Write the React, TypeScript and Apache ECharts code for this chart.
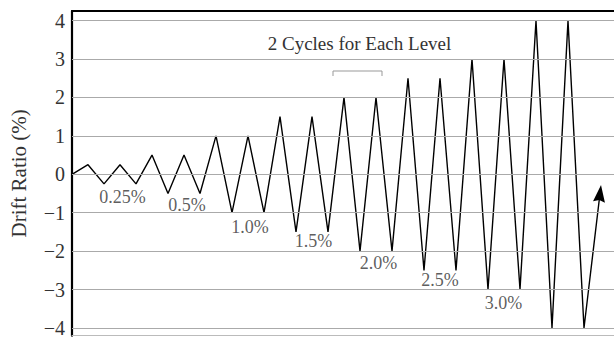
import React, { useEffect, useRef } from "react";
import * as echarts from "echarts";

// Drift ratio history (each point is one half-cycle step in time)
const stepIndex: number[] = [
  0, 1, 2, 3, 4, 5, 6, 7, 8, 9, 10, 11, 12, 13, 14, 15, 16,
  17, 18, 19, 20, 21, 22, 23, 24, 25, 26, 27, 28, 29, 30, 31, 32, 33,
];
const driftValues: number[] = [
  0, 0.25, -0.25, 0.25, -0.25, 0.5, -0.5, 0.5, -0.5, 1, -1, 1, -1, 1.5, -1.5,
  1.5, -1.5, 2, -2, 2, -2, 2.5, -2.5, 2.5, -2.5, 3, -3, 3, -3, 4, -4, 4, -4,
  -0.5,
];
const yTickValues: number[] = [-4, -3, -2, -1, 0, 1, 2, 3, 4];

// Level annotations
const levelLabels: string[] = ["0.25%", "0.5%", "1.0%", "1.5%", "2.0%", "2.5%", "3.0%"];
const levelLabelX: number[] = [3.15, 7.19, 11.12, 15.1, 19.16, 23.0, 26.97];
const levelLabelY: number[] = [-0.59, -0.81, -1.37, -1.73, -2.32, -2.74, -3.36];

const cyclesText = "2 Cycles for Each Level";
const yAxisTitle = "Drift Ratio (%)";

const SERIF = "'Liberation Serif', 'DejaVu Serif', serif";
const ARROW_HEAD = "path://M0,0 L6,17 L0,15 L-6,17 Z";

export default function App() {
  const ref = useRef<HTMLDivElement>(null);

  useEffect(() => {
    if (!ref.current) return;
    const chart = echarts.init(ref.current, undefined, { renderer: "svg" });

    const n = driftValues.length;
    const lineData = driftValues.map((v, i) => {
      if (i === n - 1) {
        return {
          value: [stepIndex[i], v],
          symbol: ARROW_HEAD,
          symbolSize: [12, 17],
          symbolRotate: -6.8,
          itemStyle: { color: "#000" },
        };
      }
      return { value: [stepIndex[i], v], symbol: "none" };
    });

    const labelData = levelLabels.map((t, i) => ({
      value: [levelLabelX[i], levelLabelY[i]],
      name: t,
    }));

    chart.setOption({
      animation: false,
      grid: { left: 72, right: 0, top: 11, bottom: 0.6, containLabel: false },
      xAxis: [
        {
          type: "value",
          position: "top",
          min: 0,
          max: 33.875,
          axisLine: { show: true, onZero: false, lineStyle: { color: "#000", width: 2.2 } },
          axisTick: { show: false },
          axisLabel: { show: false },
          splitLine: { show: false },
        },
        {
          type: "value",
          position: "bottom",
          min: 0,
          max: 33.875,
          axisLine: { show: true, onZero: false, lineStyle: { color: "#bbb", width: 1 } },
          axisTick: { show: false },
          axisLabel: { show: false },
          splitLine: { show: false },
        },
      ],
      yAxis: {
        type: "value",
        min: -4.2,
        max: 4.25,
        axisLine: { show: true, onZero: false, lineStyle: { color: "#000", width: 2.2 } },
        axisTick: { show: false },
        splitLine: { show: false },
        axisLabel: {
          customValues: yTickValues,
          margin: 7,
          color: "#333",
          fontFamily: SERIF,
          fontSize: 20,
          formatter: (v: number) => (v < 0 ? "\u2212" + Math.abs(v) : String(v)),
        },
        name: yAxisTitle,
        nameLocation: "middle",
        nameGap: 43,
        nameTextStyle: { color: "#333", fontFamily: SERIF, fontSize: 21 },
      },
      series: [
        {
          type: "scatter",
          data: [],
          silent: true,
          z: 1,
          markLine: {
            silent: true,
            symbol: ["none", "none"],
            label: { show: false },
            lineStyle: { color: "#aaa", width: 1.2, type: "solid" },
            data: yTickValues.map((v) => ({ yAxis: v })),
          },
        },
        {
          type: "line",
          data: lineData,
          showSymbol: true,
          showAllSymbol: true,
          symbol: "none",
          z: 3,
          lineStyle: { color: "#000", width: 1.4 },
          itemStyle: { color: "#000" },
        },
        {
          type: "scatter",
          data: labelData,
          symbolSize: 0,
          silent: true,
          z: 4,
          label: {
            show: true,
            position: "inside",
            formatter: (p: any) => p.name,
            color: "#333",
            fontFamily: SERIF,
            fontSize: 18,
          },
        },
      ],
      graphic: [
        {
          type: "text",
          x: 359.5,
          y: 43,
          style: {
            text: cyclesText,
            fill: "#333",
            font: `19px ${SERIF}`,
            textAlign: "center",
            textVerticalAlign: "middle",
          },
        },
        {
          type: "polyline",
          shape: { points: [[333, 76], [333, 71], [382, 71], [382, 76]] },
          style: { stroke: "#999", lineWidth: 1, fill: "none" },
        },
      ],
    });

    return () => chart.dispose();
  }, []);

  return (
    <div
      ref={ref}
      style={{ position: "fixed", left: 0, top: 0, width: 614, height: 338, background: "#fff" }}
    />
  );
}
